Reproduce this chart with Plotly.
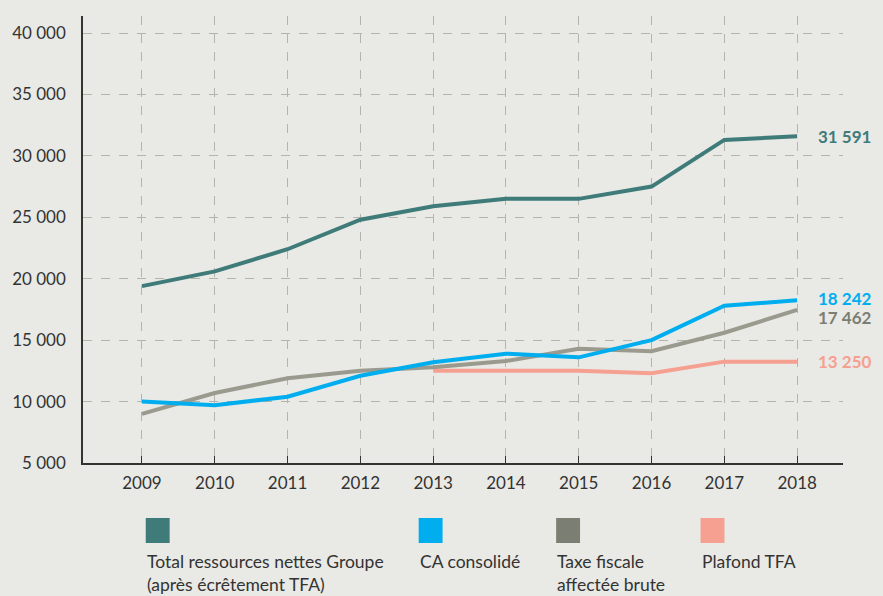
import plotly.graph_objects as go

years = [2009, 2010, 2011, 2012, 2013, 2014, 2015, 2016, 2017, 2018]
total_ressources = [19400, 20600, 22400, 24800, 25900, 26500, 26500, 27500, 31300, 31591]
ca_consolide = [10000, 9700, 10400, 12100, 13200, 13900, 13600, 15000, 17800, 18242]
taxe_fiscale = [9000, 10700, 11900, 12500, 12800, 13300, 14300, 14100, 15600, 17462]
plafond_years = [2013, 2014, 2015, 2016, 2017, 2018]
plafond_tfa = [12500, 12500, 12500, 12300, 13250, 13250]

y_ticks = [5000, 10000, 15000, 20000, 25000, 30000, 35000, 40000]
y_ticktext = ["5 000", "10 000", "15 000", "20 000", "25 000", "30 000", "35 000", "40 000"]

series_names = ["Total ressources nettes Groupe<br>(après écrêtement TFA)", "CA consolidé",
                "Taxe fiscale<br>affectée brute", "Plafond TFA"]
end_labels = ["31 591", "18 242", "17 462", "13 250"]

C_TEAL = "#3e7b79"
C_BLUE = "#00aeef"
C_GRAY = "#9a9b8e"
C_GRAY_DARK = "#7b7f73"
C_SALMON = "#f5a090"
BG = "#e9e9e5"
FONT = "Lato"

fig = go.Figure()
fig.add_trace(go.Scatter(x=years, y=total_ressources, mode="lines", line=dict(color=C_TEAL, width=4)))
fig.add_trace(go.Scatter(x=plafond_years, y=plafond_tfa, mode="lines", line=dict(color=C_SALMON, width=4)))
fig.add_trace(go.Scatter(x=years, y=taxe_fiscale, mode="lines", line=dict(color=C_GRAY, width=4)))
fig.add_trace(go.Scatter(x=years, y=ca_consolide, mode="lines", line=dict(color=C_BLUE, width=4)))

# end labels
end_vals = [total_ressources[-1], ca_consolide[-1], taxe_fiscale[-1], plafond_tfa[-1]]
end_cols = [C_TEAL, C_BLUE, C_GRAY_DARK, C_SALMON]
end_shift = [0, 2, -8, 0]
for txt, v, c, s in zip(end_labels, end_vals, end_cols, end_shift):
    fig.add_annotation(x=2018, y=v, xref="x", yref="y", text="<b>%s</b>" % txt, showarrow=False,
                       xanchor="left", xshift=19, yshift=s, font=dict(family=FONT, size=17, color=c))

# custom legend
W, H = 763.0, 447.0
def px(x):
    return (x - 80) / W
def py(y):
    return (463 - y) / H

leg_x = [143, 417, 555, 700]
leg_cols = [C_TEAL, C_BLUE, C_GRAY_DARK, C_SALMON]
for lx, lc, name in zip(leg_x, leg_cols, series_names):
    fig.add_shape(type="rect", xref="paper", yref="paper", x0=px(lx), x1=px(lx + 24),
                  y0=py(543), y1=py(518), fillcolor=lc, line=dict(width=0))
    fig.add_annotation(x=px(lx - 1), y=py(549), xref="paper", yref="paper", text=name,
                       showarrow=False, xanchor="left", yanchor="top", align="left",
                       font=dict(family=FONT, size=17.5, color="#333333"))

fig.update_layout(
    width=883, height=596,
    margin=dict(l=80, r=40, t=16, b=133),
    paper_bgcolor=BG, plot_bgcolor=BG,
    showlegend=False,
    font=dict(family=FONT, size=17, color="#333333"),
    xaxis=dict(range=[2008.19, 2018.63], tickvals=years, ticktext=[str(y) for y in years],
               showgrid=True, gridcolor="#b4b4ac", griddash="dash", gridwidth=1,
               showline=True, linecolor="#333333", linewidth=1.5,
               ticks="inside", ticklen=7, tickcolor="#333333", zeroline=False,
               ticklabelstandoff=4),
    yaxis=dict(range=[5000, 41384], tickvals=y_ticks, ticktext=y_ticktext,
               showgrid=True, gridcolor="#b4b4ac", griddash="dash", gridwidth=1,
               showline=True, linecolor="#333333", linewidth=1.5, ticks="",
               zeroline=False, ticklabelstandoff=12),
)

fig.write_html("out.html", config={"displayModeBar": False},
               post_script="document.body.style.margin='0';document.body.style.background='%s';" % BG)
